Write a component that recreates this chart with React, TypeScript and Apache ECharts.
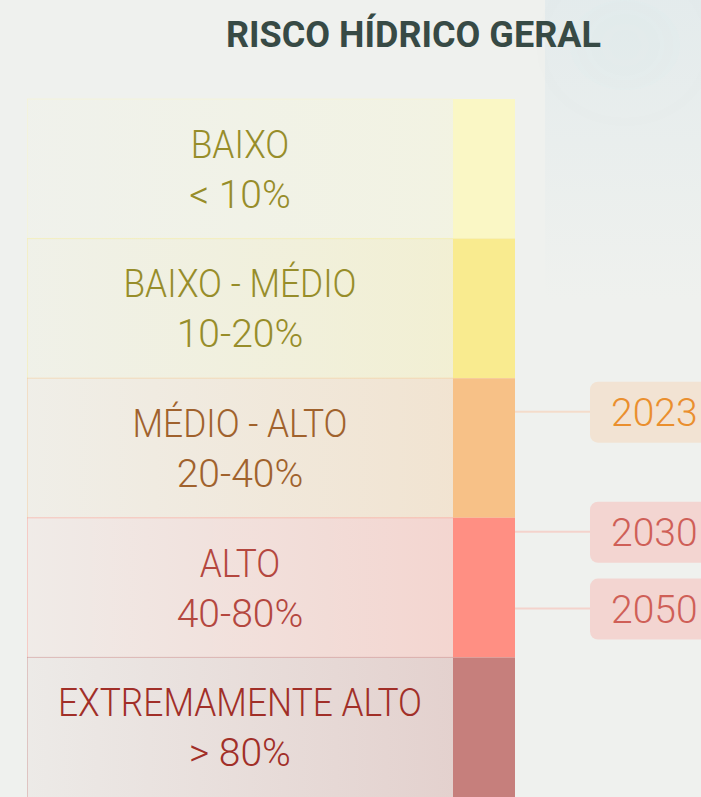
import React, { useEffect, useRef } from "react";
import * as echarts from "echarts";

// ---- data ----
const categories = ["BAIXO", "BAIXO - MÉDIO", "MÉDIO - ALTO", "ALTO", "EXTREMAMENTE ALTO"];
const ranges = ["< 10%", "10-20%", "20-40%", "40-80%", "> 80%"];
const bandColors = ["#faf7c5", "#f9eb8f", "#f7c187", "#ff8f83", "#c67f7c"];
const textColors = ["#978d2a", "#978d2a", "#a0622d", "#b4473f", "#a12f28"];
const years = ["2023", "2030", "2050"];
// position of each year on the band scale (0 = top of BAIXO, 5 = bottom of EXTREMAMENTE ALTO)
const yearPositions = [2.24, 3.1, 3.65];
const yearBoxColors = ["#f2e3d3", "#f3d5d1", "#f3d5d1"];
const yearTextColors = ["#ea8f2e", "#cf5f57", "#cf5f57"];
const yearLineColors = ["#f4dccb", "#f4d3cc", "#f4d3cc"];

const STRIP_START = 426 / 488;

function hexA(hex: string, a: number) {
  const r = parseInt(hex.slice(1, 3), 16);
  const g = parseInt(hex.slice(3, 5), 16);
  const b = parseInt(hex.slice(5, 7), 16);
  return `rgba(${r},${g},${b},${a})`;
}

export default function App() {
  const ref = useRef<HTMLDivElement>(null);
  useEffect(() => {
    if (!ref.current) return;
    const chart = echarts.init(ref.current, undefined, { renderer: "svg" });
    const bandData = categories.map((c, i) => [i]);
    const yearData = years.map((y, i) => [1, yearPositions[i]]);
    chart.setOption({
      animation: false,
      backgroundColor: "#eff1ee",
      title: {
        text: "RISCO HÍDRICO GERAL",
        left: 226,
        top: 17,
        padding: 0,
        textStyle: {
          fontFamily: "Roboto",
          fontWeight: 700,
          fontSize: 36,
          color: "#374a45",
        },
      },
      graphic: [
        { type: "rect", shape: { x: 545, y: 0, width: 156, height: 300 }, style: { fill: new echarts.graphic.LinearGradient(0, 0, 0, 1, [ { offset: 0, color: "rgba(214,228,234,0.45)" }, { offset: 1, color: "rgba(214,228,234,0)" } ]) }, silent: true, z: -10 },
        { type: "ellipse", shape: { cx: 625, cy: 45, rx: 55, ry: 45 }, style: { fill: "rgba(205,225,234,0.08)", shadowBlur: 60, shadowColor: "rgba(205,225,234,0.3)" }, silent: true, z: -10 },
      ],
      grid: { left: 27, top: 99, width: 488, height: 700 },
      xAxis: { type: "value", min: 0, max: 1, show: false },
      yAxis: { type: "value", min: 0, max: 5, inverse: true, show: false },
      series: [
        {
          type: "custom",
          data: bandData,
          clip: false,
          renderItem: (params: any, api: any) => {
            const i = api.value(0) as number;
            const p0 = api.coord([0, i]);
            const p1 = api.coord([1, i + 1]);
            const ps = api.coord([STRIP_START, i]);
            const h = p1[1] - p0[1];
            const lw = ps[0] - p0[0];
            const col = bandColors[i];
            const cx = p0[0] + lw / 2;
            const cy = p0[1] + h / 2 + 1;
            return {
              type: "group",
              children: [
                {
                  type: "rect",
                  shape: { x: p0[0], y: p0[1], width: lw, height: h },
                  style: {
                    fill: new echarts.graphic.LinearGradient(0, 0, 1, 0, [
                      { offset: 0, color: hexA(col, 0.06) },
                      { offset: 1, color: hexA(col, 0.28) },
                    ]),
                  },
                },
                {
                  type: "line",
                  shape: { x1: p0[0], y1: p0[1], x2: ps[0], y2: p0[1] },
                  style: { stroke: hexA(col, 0.45), lineWidth: 1 },
                },
                {
                  type: "line",
                  shape: { x1: p0[0] + 0.5, y1: p0[1], x2: p0[0] + 0.5, y2: p1[1] },
                  style: { stroke: hexA(col, 0.35), lineWidth: 1 },
                },
                {
                  type: "rect",
                  shape: { x: ps[0], y: p0[1], width: p1[0] - ps[0], height: h },
                  style: { fill: col },
                },
                {
                  type: "text",
                  x: cx,
                  y: cy - 25,
                  scaleX: 0.93,
                  style: {
                    text: categories[i],
                    align: "center",
                    verticalAlign: "middle",
                    fill: textColors[i],
                    fontFamily: "Roboto",
                    fontWeight: 300,
                    fontSize: 38,
                  },
                },
                {
                  type: "text",
                  x: cx,
                  y: cy + 25,
                  style: {
                    text: ranges[i],
                    align: "center",
                    verticalAlign: "middle",
                    fill: textColors[i],
                    fontFamily: "Roboto",
                    fontWeight: 300,
                    fontSize: 39,
                  },
                },
              ],
            };
          },
        },
        {
          type: "custom",
          data: yearData,
          clip: false,
          renderItem: (params: any, api: any) => {
            const i = params.dataIndex as number;
            const p = api.coord([api.value(0), api.value(1)]);
            const bx = p[0] + 75;
            return {
              type: "group",
              children: [
                {
                  type: "line",
                  shape: { x1: p[0], y1: p[1], x2: bx, y2: p[1] },
                  style: { stroke: yearLineColors[i], lineWidth: 2 },
                },
                {
                  type: "rect",
                  shape: { x: bx, y: p[1] - 30, width: 150, height: 61, r: 8 },
                  style: { fill: yearBoxColors[i] },
                },
                {
                  type: "text",
                  x: bx + 21,
                  y: p[1] + 1,
                  style: {
                    text: years[i],
                    align: "left",
                    verticalAlign: "middle",
                    fill: yearTextColors[i],
                    fontFamily: "Roboto",
                    fontWeight: 300,
                    fontSize: 39,
                  },
                },
              ],
            };
          },
        },
      ],
    });
    return () => chart.dispose();
  }, []);
  return (
    <div
      ref={ref}
      style={{ position: "fixed", left: 0, top: 0, width: 701, height: 797 }}
    />
  );
}
